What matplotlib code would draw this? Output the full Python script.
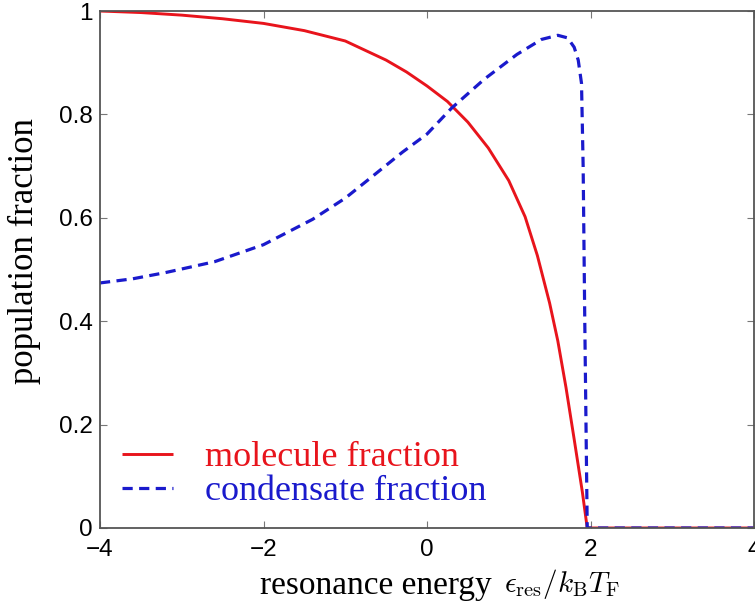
import matplotlib
matplotlib.use("Agg")
import matplotlib.pyplot as plt

# Data
mol_x = [-4.0, -3.5, -3.0, -2.5, -2.0, -1.5, -1.0, -0.5, -0.25, 0.0, 0.25, 0.5, 0.75, 1.0, 1.2,
         1.35, 1.5, 1.6, 1.7, 1.8, 1.9, 1.96, 2.0, 4.0]
mol_y = [1.0, 0.997, 0.992, 0.985, 0.976, 0.962, 0.942, 0.905, 0.882, 0.855, 0.825, 0.785, 0.735, 0.672, 0.602,
         0.527, 0.435, 0.362, 0.272, 0.172, 0.070, 0.0, 0.0, 0.0]

con_x = [-4.0, -3.6, -3.2, -2.6, -2.0, -1.4, -1.0, -0.7, -0.3, 0.0, 0.3, 0.7, 1.1, 1.4, 1.6, 1.72, 1.8, 1.85,
         1.89, 1.91, 1.93, 1.96, 2.0, 4.0]
con_y = [0.474, 0.482, 0.494, 0.515, 0.548, 0.597, 0.638, 0.676, 0.727, 0.762, 0.812, 0.868, 0.916, 0.945, 0.953,
         0.948, 0.930, 0.905, 0.860, 0.700, 0.400, 0.0, 0.0, 0.0]

x_ticks = [-4, -2, 0, 2, 4]
x_ticklabels = ["\u22124", "\u22122", "0", "2", "4"]
y_ticks = [0, 0.2, 0.4, 0.6, 0.8, 1.0]
y_ticklabels = ["0", "0.2", "0.4", "0.6", "0.8", "1"]

red = "#e8141c"
blue = "#1a1acc"

plt.rcParams["mathtext.fontset"] = "cm"
fig = plt.figure(figsize=(7.55, 6.03), dpi=100)
ax = fig.add_axes([100 / 755, 1 - 528 / 603, 654 / 755, 517 / 603])

ax.plot(mol_x, mol_y, color=red, lw=2.1, label="molecule fraction", solid_capstyle="butt")
ax.plot(con_x, con_y, color=blue, lw=2.3, dashes=(3.2, 2.0), label="condensate fraction")

ax.set_xlim(-4, 4)
ax.set_ylim(0, 1)
ax.set_xticks(x_ticks)
ax.set_xticklabels(x_ticklabels)
ax.set_yticks(y_ticks)
ax.set_yticklabels(y_ticklabels)

for s in ax.spines.values():
    s.set_color("#555555")
    s.set_linewidth(1.3)
ax.tick_params(direction="in", length=5, width=0.8, color="#777777",
               top=True, right=True, labelsize=17.5,
               labelfontfamily="Liberation Sans")
ax.tick_params(axis="y", pad=5)
ax.tick_params(axis="x", pad=8)

leg = ax.legend(loc="lower left", bbox_to_anchor=(22 / 654, 0.038), frameon=False,
                prop={"family": "Liberation Serif", "size": 26},
                labelcolor="linecolor", handlelength=1.4, handletextpad=0.9,
                labelspacing=0.02, borderaxespad=0.0, borderpad=0.0)

fig.text(0.032, 1 - 251 / 603, "population fraction", rotation=90,
         ha="center", va="center", family="Liberation Serif", size=25)
fig.text(260 / 755, 9 / 603, "resonance energy", ha="left", va="baseline",
         family="Liberation Serif", size=24)
fig.text(504 / 755, 11 / 603, r"$\epsilon_{\rm res}/k_{\rm B}T_{\rm F}$",
         ha="left", va="baseline", size=21)

fig.savefig("out.png", dpi=100)
